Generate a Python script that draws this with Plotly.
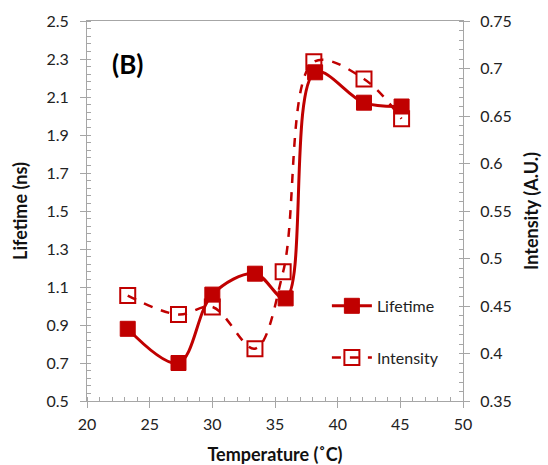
import plotly.graph_objects as go

temperature_lifetime = [23.25, 27.3, 30.0, 33.4, 35.85, 38.2, 42.1, 45.1]
lifetime_ns = [0.88, 0.70, 1.06, 1.17, 1.04, 2.23, 2.07, 2.05]

temperature_intensity = [23.25, 27.3, 30.0, 33.4, 35.65, 38.1, 42.1, 45.1]
intensity_au = [0.461, 0.441, 0.449, 0.405, 0.486, 0.707, 0.689, 0.647]

x_ticks = [20, 25, 30, 35, 40, 45, 50]
lifetime_ticks = [0.5, 0.7, 0.9, 1.1, 1.3, 1.5, 1.7, 1.9, 2.1, 2.3, 2.5]
intensity_ticks = [0.35, 0.4, 0.45, 0.5, 0.55, 0.6, 0.65, 0.7, 0.75]
intensity_labels = ["0.35", "0.4", "0.45", "0.5", "0.55", "0.6", "0.65", "0.7", "0.75"]

RED = "#C00000"
GRAY = "#A6A6A6"
FONT = "Lato"

fig = go.Figure()
fig.add_trace(go.Scatter(
    x=temperature_lifetime, y=lifetime_ns, name="Lifetime",
    mode="lines+markers", legendgroup="a",
    line=dict(color=RED, width=3, shape="spline", smoothing=1.0),
    marker=dict(symbol="square", size=15, color=RED, line=dict(color=RED, width=1)),
    yaxis="y",
))
fig.add_trace(go.Scatter(
    x=temperature_intensity, y=intensity_au, name="Intensity",
    mode="lines+markers", legendgroup="b",
    line=dict(color=RED, width=2.5, dash="dash", shape="spline", smoothing=1.0),
    marker=dict(symbol="square-open", size=15, color=RED, line=dict(color=RED, width=2)),
    yaxis="y2",
))

axis_common = dict(
    showgrid=False, zeroline=False, showline=True, linecolor=GRAY, linewidth=1,
    ticks="outside", ticklen=6, tickcolor=GRAY, tickwidth=1, automargin=False,
    tickfont=dict(family=FONT, size=16, color="#222222"),
)
title_font = dict(family=FONT, size=18, color="#111111")

fig.update_layout(
    width=548, height=465,
    margin=dict(l=87, r=85, t=21, b=64),
    paper_bgcolor="white", plot_bgcolor="white",
    font=dict(family=FONT, color="#222222"),
    showlegend=True,
    legend=dict(x=0.638, y=0.295, xanchor="left", yanchor="top",
                bgcolor="rgba(0,0,0,0)", font=dict(family=FONT, size=16, color="#222222"),
                tracegroupgap=28, traceorder="grouped", itemwidth=40),
    xaxis=dict(range=[20, 50], tickvals=x_ticks, mirror=True, ticklabelstandoff=3,
               minor=dict(ticks="inside", dtick=1, ticklen=4, tickcolor=GRAY),
               title=dict(text="<b>Temperature (˚C)</b>", font=title_font, standoff=22),
               **axis_common),
    yaxis=dict(range=[0.5, 2.5], tickvals=lifetime_ticks, tickformat=".1f",
               ticklabelstandoff=8,
               minor=dict(ticks="inside", dtick=0.04, tick0=0.5, ticklen=4, tickcolor=GRAY),
               title=dict(text="<b>Lifetime (ns)</b>", font=title_font, standoff=14),
               **axis_common),
    yaxis2=dict(range=[0.35, 0.75], tickvals=intensity_ticks, ticktext=intensity_labels,
                overlaying="y", side="right", ticklabelstandoff=7,
                minor=dict(ticks="inside", dtick=0.01, tick0=0.35, ticklen=4, tickcolor=GRAY),
                title=dict(text="<b>Intensity (A.U.)</b>", font=title_font, standoff=14),
                **axis_common),
    annotations=[dict(text="<b>(B)</b>", xref="paper", yref="paper", x=0.062, y=0.888,
                      xanchor="left", yanchor="middle", showarrow=False,
                      font=dict(family=FONT, size=26, color="#000000"))],
)

fig.write_html("out.html")
